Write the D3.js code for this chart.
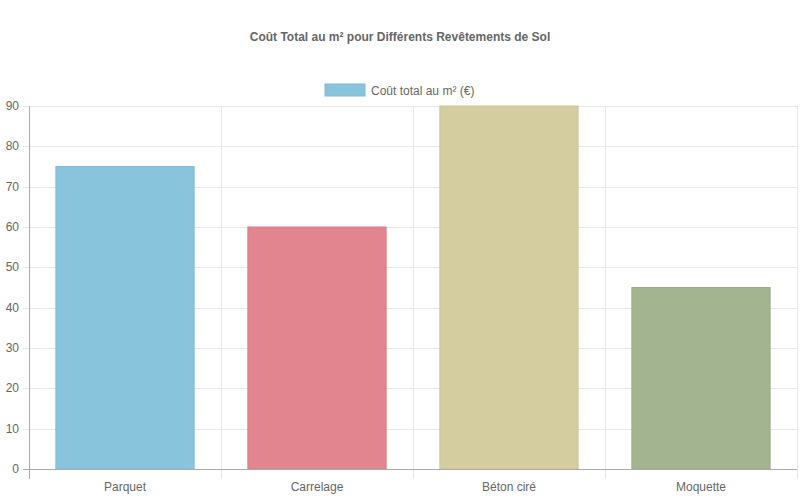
<!DOCTYPE html>
<html>
<head>
<meta charset="utf-8">
<script src="https://cdn.jsdelivr.net/npm/d3@7"></script>
<style>
  body { margin: 0; background: #fff; }
  text { font-family: "Liberation Sans", Arial, sans-serif; }
</style>
</head>
<body>
<div class="chart"></div>
<script>
var categories = ["Parquet", "Carrelage", "Béton ciré", "Moquette"];
var values = [75, 60, 90, 45];
var barColors = ["#88c5dd", "#e3858f", "#d4cda0", "#a3b490"];
var borderColors = ["#7fbcd4", "#da7c86", "#cbc497", "#9aab87"];
var yTicks = [0, 10, 20, 30, 40, 50, 60, 70, 80, 90];
var seriesName = "Coût total au m² (€)";
var title = "Coût Total au m² pour Différents Revêtements de Sol";

var width = 800, height = 500;
var plotLeft = 29, plotRight = 797, plotTop = 106, plotBottom = 469;

var svg = d3.select(".chart").append("svg")
    .attr("width", width)
    .attr("height", height);

var x = d3.scaleBand().domain(categories).range([plotLeft, plotRight]).paddingInner(0).paddingOuter(0);
var y = d3.scaleLinear().domain([0, 90]).range([plotBottom, plotTop]);

// title
svg.append("text")
    .attr("x", width / 2).attr("y", 41)
    .attr("text-anchor", "middle")
    .attr("font-size", 12).attr("font-weight", "bold")
    .attr("fill", "#666")
    .text(title);

// legend
svg.append("rect")
    .attr("x", 325).attr("y", 84).attr("width", 40).attr("height", 12)
    .attr("fill", barColors[0]).attr("stroke", borderColors[0]);
svg.append("text")
    .attr("x", 371).attr("y", 94.5)
    .attr("font-size", 12).attr("fill", "#666")
    .text(seriesName);

// horizontal grid
svg.append("g").selectAll("line")
    .data(yTicks)
    .enter().append("line")
    .attr("x1", plotLeft - 6).attr("x2", plotRight)
    .attr("y1", function (d) { return Math.round(y(d)) + 0.5; })
    .attr("y2", function (d) { return Math.round(y(d)) + 0.5; })
    .attr("stroke", function (d) { return d === 0 ? "#aaa" : "#e6e6e6"; });

// vertical grid
var xEdges = categories.map(function (c) { return x(c); }).concat([plotRight]);
svg.append("g").selectAll("line")
    .data(xEdges)
    .enter().append("line")
    .attr("x1", function (d) { return Math.round(d) + 0.5; })
    .attr("x2", function (d) { return Math.round(d) + 0.5; })
    .attr("y1", plotTop).attr("y2", plotBottom + 10)
    .attr("stroke", function (d, i) { return i === 0 ? "#aaa" : "#e6e6e6"; });

// y tick labels
svg.append("g").selectAll("text")
    .data(yTicks)
    .enter().append("text")
    .attr("x", plotLeft - 10)
    .attr("y", function (d) { return y(d) + 4; })
    .attr("text-anchor", "end")
    .attr("font-size", 12).attr("fill", "#666")
    .text(function (d) { return d; });

// bars
var bw = x.bandwidth() * 0.72;
svg.append("g").selectAll("rect")
    .data(values)
    .enter().append("rect")
    .attr("x", function (d, i) { return x(categories[i]) + (x.bandwidth() - bw) / 2; })
    .attr("y", function (d) { return y(d); })
    .attr("width", bw)
    .attr("height", function (d) { return y(0) - y(d); })
    .attr("fill", function (d, i) { return barColors[i]; })
    .attr("stroke", function (d, i) { return borderColors[i]; })
    .attr("stroke-width", 1);

// redraw baseline over bars
svg.append("line")
    .attr("x1", plotLeft - 6).attr("x2", plotRight)
    .attr("y1", Math.round(y(0)) + 0.5).attr("y2", Math.round(y(0)) + 0.5)
    .attr("stroke", "#aaa");

// x labels
svg.append("g").selectAll("text")
    .data(categories)
    .enter().append("text")
    .attr("x", function (d) { return x(d) + x.bandwidth() / 2; })
    .attr("y", 491)
    .attr("text-anchor", "middle")
    .attr("font-size", 12).attr("fill", "#666")
    .text(function (d) { return d; });
</script>
</body>
</html>
